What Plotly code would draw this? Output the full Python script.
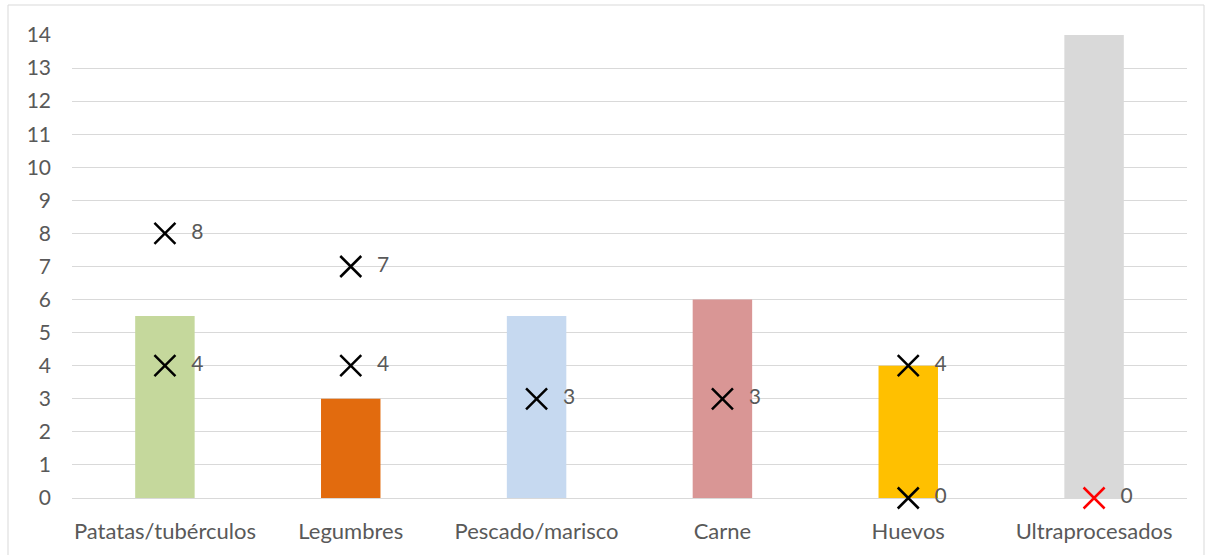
import plotly.graph_objects as go

categories = ["Patatas/tubérculos", "Legumbres", "Pescado/marisco", "Carne", "Huevos", "Ultraprocesados"]
bar_values = [5.5, 3, 5.5, 6, 4, 14]
bar_colors = ["#c5d89c", "#e26b0e", "#c6d9f0", "#d99695", "#ffc000", "#d9d9d9"]
upper_values = [8, 7, None, None, 4, None]
lower_values = [4, 4, 3, 3, 0, 0]
lower_colors = ["black", "black", "black", "black", "black", "#ff0000"]
y_ticks = list(range(0, 15))

font_family = "Lato, Carlito, 'Liberation Sans', sans-serif"
gray = "#595959"
fs = 21

fig = go.Figure()
fig.add_trace(go.Bar(x=categories, y=bar_values, marker=dict(color=bar_colors, line=dict(width=0)),
                     showlegend=False, hoverinfo="skip"))

def text_of(vals):
    return ["" if v is None else "\u2007" + str(v) for v in vals]

fig.add_trace(go.Scatter(x=categories, y=upper_values, mode="markers+text",
                         text=text_of(upper_values), textposition="middle right",
                         textfont=dict(size=fs, color=gray, family=font_family),
                         marker=dict(symbol="x-thin", size=21, line=dict(width=2.5, color="black"), color="black"),
                         showlegend=False, cliponaxis=False))
fig.add_trace(go.Scatter(x=categories, y=lower_values, mode="markers+text",
                         text=text_of(lower_values), textposition="middle right",
                         textfont=dict(size=fs, color=gray, family=font_family),
                         marker=dict(symbol="x-thin", size=21, line=dict(width=2.5, color=lower_colors), color=lower_colors),
                         showlegend=False, cliponaxis=False))

fig.update_layout(
    width=1212, height=555,
    margin=dict(l=72, r=25, t=35, b=57),
    paper_bgcolor="white", plot_bgcolor="white",
    bargap=0.68,
    font=dict(family=font_family, size=fs, color=gray),
    xaxis=dict(showgrid=False, showline=False, zeroline=False, ticks="",
               tickfont=dict(size=22, color=gray), ticklabelstandoff=18),
    yaxis=dict(range=[0, 14], tickvals=y_ticks, showgrid=True, gridcolor="#d9d9d9", gridwidth=1,
               zeroline=True, zerolinecolor="#d9d9d9", zerolinewidth=1, showline=False,
               tickfont=dict(size=fs, color=gray), ticklabelstandoff=20),
    shapes=[dict(type="rect", xref="paper", yref="paper",
                 x0=(8 - 72) / 1115, x1=(1204 - 72) / 1115,
                 y0=(498 - 556) / 463, y1=(498 - 5) / 463,
                 line=dict(color="#d9d9d9", width=1), fillcolor="rgba(0,0,0,0)", layer="below")],
)

fig.write_html("out.html")
